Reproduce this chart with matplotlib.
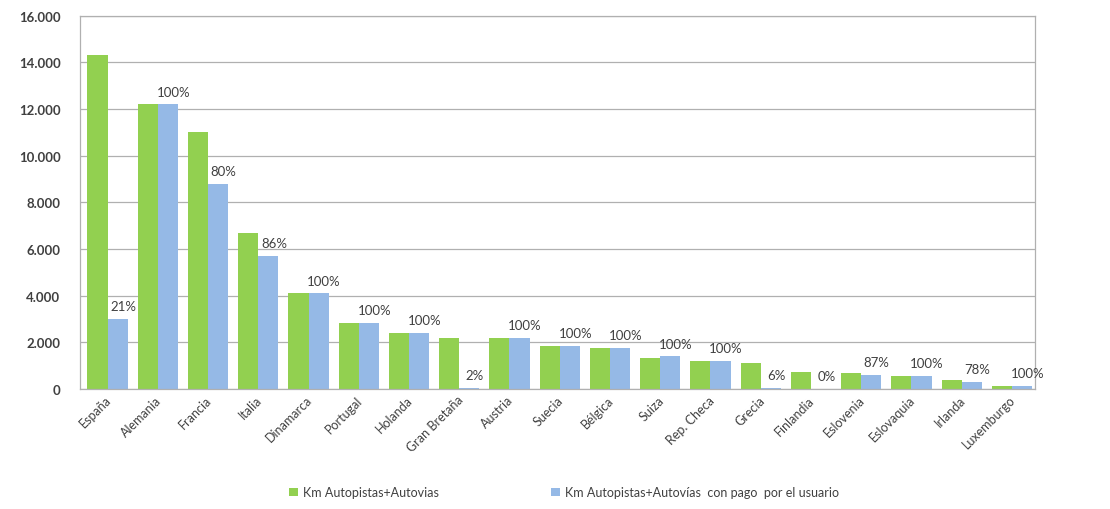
import numpy as np
import matplotlib
matplotlib.use('Agg')
import matplotlib.pyplot as plt
from matplotlib.ticker import FuncFormatter

plt.rcParams['font.family'] = ['Lato', 'DejaVu Sans']

paises = ['España', 'Alemania', 'Francia', 'Italia', 'Dinamarca', 'Portugal', 'Holanda',
          'Gran Bretaña', 'Austria', 'Suecia', 'Bélgica', 'Suiza', 'Rep. Checa', 'Grecia',
          'Finlandia', 'Eslovenia', 'Eslovaquia', 'Irlanda', 'Luxemburgo']
km_total = [14300, 12200, 11000, 6700, 4100, 2850, 2400, 2200, 2200, 1850, 1760,
            1350, 1200, 1100, 750, 700, 550, 400, 150]
km_pago = [3000, 12200, 8800, 5700, 4100, 2850, 2400, 44, 2200, 1850, 1760,
           1400, 1200, 66, 0, 610, 550, 310, 150]
porcentaje = ['21%', '100%', '80%', '86%', '100%', '100%', '100%', '2%', '100%', '100%',
              '100%', '100%', '100%', '6%', '0%', '87%', '100%', '78%', '100%']

verde = '#92D050'
azul = '#95B9E6'
gris = '#404040'

fig = plt.figure(figsize=(11.1, 5.1), dpi=100)
ax = fig.add_axes([0.072, 0.235, 0.86, 0.732])

x = np.arange(len(paises))
w = 0.4
ax.bar(x - w / 2 + 0.05, km_total, width=w, color=verde, label='Km Autopistas+Autovias', zorder=2)
ax.bar(x + w / 2 + 0.05, km_pago, width=w, color=azul,
       label='Km Autopistas+Autovías  con pago  por el usuario', zorder=2)

for i in range(len(paises)):
    ax.annotate(porcentaje[i], (x[i] + w / 2 + 0.05, km_pago[i]), xytext=(4, 5),
                textcoords='offset points', ha='center', va='bottom',
                fontsize=9.5, color=gris)

ax.set_xlim(-0.5, len(paises) - 0.5)
ax.set_ylim(0, 16000)
ax.set_yticks(range(0, 16001, 2000))
ax.yaxis.set_major_formatter(FuncFormatter(lambda v, p: f'{int(v):,}'.replace(',', '.')))
ax.grid(axis='y', color='#b0b0b0', linewidth=0.9, zorder=0)
ax.tick_params(axis='y', length=0, pad=14, labelsize=9.5, labelcolor=gris)
ax.tick_params(axis='x', length=0, pad=3, labelsize=9, labelcolor=gris)
for lbl in ax.get_yticklabels():
    lbl.set_fontweight('bold')
ax.set_xticks(x)
ax.set_xticklabels(paises, rotation=45, ha='right', rotation_mode='anchor')

for s in ax.spines.values():
    s.set_color('#b0b0b0')
    s.set_linewidth(0.9)

ax.legend(loc='upper center', bbox_to_anchor=(0.507, -0.23), ncol=2, frameon=False,
          fontsize=9, handlelength=0.7, handleheight=0.7, columnspacing=9.0,
          handletextpad=0.4, labelcolor=gris)

plt.savefig('out.png', dpi=100)
